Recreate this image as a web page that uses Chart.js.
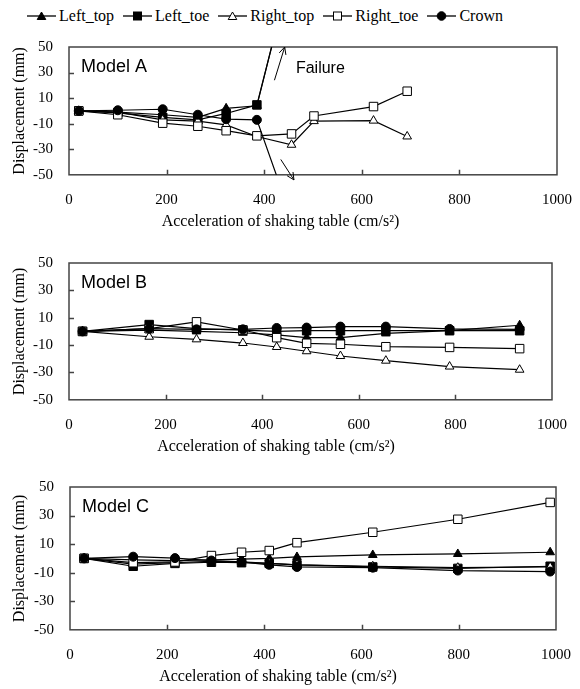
<!DOCTYPE html>
<html>
<head>
<meta charset="utf-8">
<title>Displacement vs acceleration of shaking table</title>
<script src="https://cdn.jsdelivr.net/npm/chart.js@4.4.1/dist/chart.umd.min.js"></script>
<style>
  body { margin: 0; background: #fff; }
  #fig { position: relative; width: 580px; height: 689px; font-family: "Liberation Serif", "Times New Roman", serif; }
  #legend { position: absolute; left: 27px; top: 6px; height: 20px; display: flex; align-items: center; gap: 9px; font-size: 16px; color: #000; white-space: nowrap; }
  #legend .item { display: flex; align-items: center; }
  #legend svg { margin-right: 3px; }
  canvas { position: absolute; left: 0; }
</style>
</head>
<body>
<div id="fig">
  <div id="legend"></div>
  <canvas id="modelA" width="580" height="203" style="top:30px"></canvas>
  <canvas id="modelB" width="580" height="212" style="top:246px"></canvas>
  <canvas id="modelC" width="580" height="218" style="top:470px"></canvas>
</div>
<script>
// -------------------------
// Data
// -------------------------
const seriesNames = ["Left_top", "Left_toe", "Right_top", "Right_toe", "Crown"];
const xTicks = [0, 200, 400, 600, 800, 1000];
const yTicks = [-50, -30, -10, 10, 30, 50];

// Model A : left side + crown fail after 385 cm/s2, last point runs off the plot
const accA_fail = [20, 100, 192, 264, 322, 385, 435];
const accA = [20, 100, 192, 264, 322, 385, 456, 502, 624, 693];
const leftTopA = [0, -1, -3, -5, 2, 4, 80];
const leftToeA = [0, -1.5, -5, -7, -2, 4.7, 80];
const rightTopA = [0, -1, -7, -8, -11, -20, -26.5, -8, -7.6, -20];
const rightToeA = [0, -3, -9.6, -12, -15.5, -19.5, -18, -4, 3.4, 15.4];
const crownA = [0, 0.5, 1.3, -3, -6.5, -7, -61];

// Model B
const accB = [28, 166, 264, 360, 430, 492, 562, 656, 788, 933];
const leftTopB = [0, 1, 0, -1, -2.5, -4.5, -4.5, -1.5, 0.5, 4.5];
const leftToeB = [0, 5, 2, 1, 0, 0.5, 0.5, 0.5, 0.5, 0.5];
const rightTopB = [0, -3.9, -5.8, -8.5, -11.4, -14.5, -18, -21.4, -25.7, -28];
const rightToeB = [0, 2, 7, 1, -4.6, -8.7, -9.4, -11.2, -11.7, -12.6];
const crownB = [0, 2, 1.5, 1.5, 2.5, 2.8, 3.5, 3.5, 1.8, 1.5];

// Model C
const accC = [29, 130, 216, 291, 353, 410, 467, 623, 798, 988];
const leftTopC = [0, -1, -1.5, -1, -0.5, 0, 1, 2.4, 3.1, 4.3];
const leftToeC = [0, -5.5, -3.5, -2.7, -3, -3.5, -4.5, -6, -7, -5.5];
const rightTopC = [0, -4, -3, -2, -2.5, -3.5, -4.5, -5.5, -6.5, -6];
const rightToeC = [0, -3, -2.5, 2, 4.3, 5.5, 11, 18.3, 27.4, 39.2];
const crownC = [0, 1.2, 0.2, -1.5, -2.5, -4.5, -6, -6.5, -8.5, -9.2];

// -------------------------
// Styles
// -------------------------
const markers = {
  Left_top:  { style: "triangle", r: 5,   fill: "#000" },
  Left_toe:  { style: "rect",     r: 6,   fill: "#000" },
  Right_top: { style: "triangle", r: 5,   fill: "#fff" },
  Right_toe: { style: "rect",     r: 6,   fill: "#fff" },
  Crown:     { style: "circle",   r: 4.5, fill: "#000" }
};
const serif = (size) => ({ family: "'Liberation Serif', 'Times New Roman', serif", size, weight: "normal" });
const SANS = "'Liberation Sans', Arial, sans-serif";

// -------------------------
// Legend (html)
// -------------------------
function markerSvg(m) {
  let shape;
  if (m.style === "triangle") shape = `<polygon points="14.5,3 18.8,10.5 10.2,10.5" fill="${m.fill}" stroke="#000" stroke-width="1"/>`;
  else if (m.style === "rect") shape = `<rect x="10.5" y="3" width="8" height="8" fill="${m.fill}" stroke="#000" stroke-width="1"/>`;
  else shape = `<circle cx="14.5" cy="7" r="4.3" fill="${m.fill}" stroke="#000" stroke-width="1"/>`;
  return `<svg width="29" height="14"><line x1="0" y1="7" x2="29" y2="7" stroke="#000" stroke-width="1.3"/>${shape}</svg>`;
}
document.getElementById("legend").innerHTML = seriesNames
  .map(n => `<span class="item">${markerSvg(markers[n])}<span>${n}</span></span>`)
  .join("");

// -------------------------
// Frame, inward ticks, labels, failure arrows
// -------------------------
function arrow(ctx, x1, y1, x2, y2) {
  const a = Math.atan2(y2 - y1, x2 - x1), h = 8;
  ctx.beginPath();
  ctx.moveTo(x1, y1);
  ctx.lineTo(x2, y2);
  ctx.moveTo(x2 - h * Math.cos(a - 0.45), y2 - h * Math.sin(a - 0.45));
  ctx.lineTo(x2, y2);
  ctx.lineTo(x2 - h * Math.cos(a + 0.45), y2 - h * Math.sin(a + 0.45));
  ctx.stroke();
}

const panelDeco = {
  id: "panelDeco",
  beforeDatasetsDraw(chart) {
    const { ctx, chartArea: a, scales: { x, y } } = chart;
    ctx.save();
    ctx.strokeStyle = "#444";
    ctx.lineWidth = 1.5;
    ctx.strokeRect(a.left, a.top, a.right - a.left, a.bottom - a.top);
    ctx.beginPath();
    xTicks.slice(1, -1).forEach(v => {
      const px = Math.round(x.getPixelForValue(v)) + 0.5;
      ctx.moveTo(px, a.bottom); ctx.lineTo(px, a.bottom - 5);
    });
    yTicks.slice(1, -1).forEach(v => {
      const py = Math.round(y.getPixelForValue(v)) + 0.5;
      ctx.moveTo(a.left, py); ctx.lineTo(a.left + 5, py);
    });
    ctx.stroke();
    ctx.restore();
  },
  afterDraw(chart, args, o) {
    const { ctx, chartArea: a, scales: { x, y } } = chart;
    ctx.save();
    ctx.fillStyle = "#000";
    ctx.font = `18px ${SANS}`;
    ctx.textBaseline = "alphabetic";
    ctx.fillText(o.label, a.left + 12, a.top + 25);
    if (o.note) {
      ctx.font = `16px ${SANS}`;
      ctx.textBaseline = "middle";
      ctx.fillText(o.note.text, x.getPixelForValue(o.note.at[0]), y.getPixelForValue(o.note.at[1]));
      ctx.strokeStyle = "#000";
      ctx.lineWidth = 1;
      o.note.arrows.forEach(([p, q]) => arrow(ctx,
        x.getPixelForValue(p[0]), y.getPixelForValue(p[1]),
        x.getPixelForValue(q[0]), y.getPixelForValue(q[1])));
    }
    ctx.restore();
  }
};

// -------------------------
// Panels
// -------------------------
function makePanel(id, series, opts) {
  const datasets = series.map((s, i) => {
    const m = markers[seriesNames[i]];
    return {
      label: seriesNames[i],
      data: s.y.map((v, k) => ({ x: s.x[k], y: v })),
      borderColor: "#000",
      borderWidth: 1.2,
      pointStyle: m.style,
      pointRadius: m.r,
      pointBackgroundColor: m.fill,
      pointBorderColor: "#000",
      pointBorderWidth: 1,
      order: seriesNames.length - i
    };
  });

  return new Chart(document.getElementById(id), {
    type: "line",
    data: { datasets },
    options: {
      responsive: false,
      animation: false,
      events: [],
      layout: { padding: opts.pad },
      plugins: {
        legend: { display: false },
        tooltip: { enabled: false },
        title: {
          display: true, position: "bottom", color: "#000",
          text: "Acceleration of shaking table (cm/s²)",
          font: serif(16), padding: { top: 2, bottom: 2 }
        },
        panelDeco: { label: opts.label, note: opts.note || null }
      },
      scales: {
        x: {
          type: "linear", min: 0, max: 1000,
          afterBuildTicks: s => { s.ticks = xTicks.map(v => ({ value: v })); },
          grid: { display: false }, border: { display: false },
          ticks: { color: "#000", font: serif(15), padding: 8, maxRotation: 0, autoSkip: false, callback: v => String(v) },
          afterFit: s => { s.height = 35; }
        },
        y: {
          type: "linear", min: -50, max: 50,
          afterBuildTicks: s => { s.ticks = yTicks.map(v => ({ value: v })); },
          grid: { display: false }, border: { display: false },
          ticks: { color: "#000", font: serif(15), padding: 8, callback: v => String(v) },
          title: { display: true, text: "Displacement (mm)", color: "#000", font: serif(16), padding: { top: 10, bottom: 0 } },
          afterFit: s => { s.width = opts.yw; }
        }
      }
    },
    plugins: [panelDeco]
  });
}

makePanel("modelA", [
  { x: accA_fail, y: leftTopA },
  { x: accA_fail, y: leftToeA },
  { x: accA, y: rightTopA },
  { x: accA, y: rightToeA },
  { x: accA_fail, y: crownA }
], {
  label: "Model A", yw: 69, pad: { top: 17, right: 19, bottom: 0, left: 0 },
  note: { text: "Failure", at: [465, 33], arrows: [[[421, 24], [442, 50]], [[434, -38], [461, -54]]] }
});

makePanel("modelB", [
  { x: accB, y: leftTopB },
  { x: accB, y: leftToeB },
  { x: accB, y: rightTopB },
  { x: accB, y: rightToeB },
  { x: accB, y: crownB }
], { label: "Model B", yw: 69, pad: { top: 16.5, right: 28, bottom: 0, left: 0 } });

makePanel("modelC", [
  { x: accC, y: leftTopC },
  { x: accC, y: leftToeC },
  { x: accC, y: rightTopC },
  { x: accC, y: rightToeC },
  { x: accC, y: crownC }
], { label: "Model C", yw: 70, pad: { top: 16, right: 24, bottom: 0, left: 0 } });
</script>
</body>
</html>
